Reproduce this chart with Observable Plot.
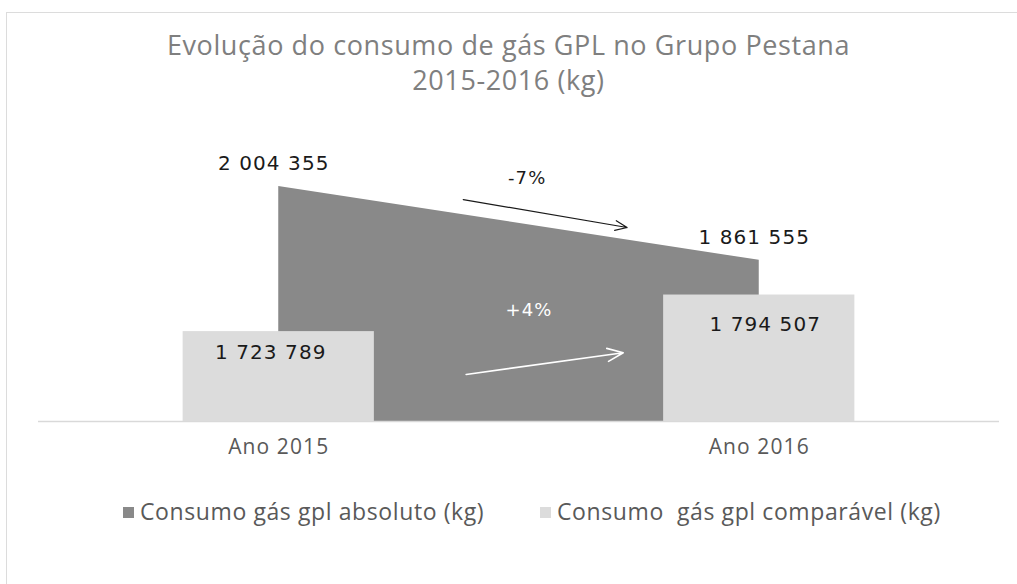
<!DOCTYPE html>
<html>
<head>
<meta charset="utf-8">
<script src="https://cdn.jsdelivr.net/npm/d3@7"></script>
<script src="https://cdn.jsdelivr.net/npm/@observablehq/plot@0.6"></script>
<style>
  html, body { margin: 0; padding: 0; background: #fff; }
  body { width: 1017px; height: 584px; overflow: hidden; position: relative; }
  #frame { position: absolute; left: 6px; top: 12px; width: 1100px; height: 700px;
           border-top: 1.5px solid #dcdcdc; border-left: 1.5px solid #dcdcdc; }
  .tl { position: absolute; left: 0; width: 1017px; text-align: center;
        font-family: "Open Sans", sans-serif; font-size: 27px; line-height: 27px; letter-spacing: 0.6px; color: #7f7f7f; }
  #chart { position: absolute; left: 0; top: 100px; }
  #chart svg text { letter-spacing: 1.1px; }
  .leg { position: absolute; top: 497px; font-family: "Open Sans", sans-serif; font-size: 23px;
         letter-spacing: 0.6px; color: #595959; white-space: pre; line-height: 28px; }
  .sw { display: inline-block; width: 11px; height: 11px; margin-right: 6px; vertical-align: 2px; }
</style>
</head>
<body>
<div id="frame"></div>
<div id="title"></div>
<div id="chart"></div>
<div id="legend"></div>
<script>
// ---- data ----
const years = ["Ano 2015", "Ano 2016"];
const absoluto = [2004355, 1861555];
const comparavel = [1723789, 1794507];
const seriesNames = ["Consumo gás gpl absoluto (kg)", "Consumo  gás gpl comparável (kg)"];
const titleLines = ["Evolução do consumo de gás GPL no Grupo Pestana", "2015-2016 (kg)"];
const yDomain = [1550000, 2100000];

// ---- derived ----
const data = years.map((year, i) => ({i, year, abs: absoluto[i], comp: comparavel[i]}));
const pct = (arr) => Math.round((arr[1] / arr[0] - 1) * 100);
const pctLabel = (p) => (p > 0 ? "+" : "-") + Math.abs(p) + "%";
const fmt = d3.formatLocale({decimal: ",", thousands: " ", grouping: [3], currency: ["", ""]}).format(",d");

// annotation anchors (data space)
const annAbs = [{text: pctLabel(pct(absoluto)), x: 0.517, y: 2020000, x1: 0.384, y1: 1979000, x2: 0.725, y2: 1925000}];
const annComp = [{text: pctLabel(pct(comparavel)), x: 0.521, y: 1764600, x1: 0.390, y1: 1641000, x2: 0.717, y2: 1683000}];

const colAbs = "#898989", colComp = "#dcdcdc";
const halfBar = 0.199;
const numFont = "DejaVu Sans";

// title lines
const titleTops = [31, 66];
titleLines.forEach((t, k) => {
  const d = document.createElement("div");
  d.className = "tl";
  d.style.top = titleTops[k] + "px";
  d.textContent = t;
  document.getElementById("title").appendChild(d);
});

const chart = Plot.plot({
  width: 1017,
  height: 360,
  marginLeft: 38,
  marginRight: 18,
  marginTop: 36.5,
  marginBottom: 39,
  x: {domain: [-0.5, 1.5], axis: null},
  y: {domain: yDomain, axis: null},
  style: {background: "transparent", fontFamily: "Open Sans"},
  marks: [
    Plot.areaY(data, {x: "i", y1: yDomain[0], y2: "abs", fill: colAbs}),
    Plot.rect(data, {x1: d => d.i - halfBar, x2: d => d.i + halfBar, y1: yDomain[0], y2: "comp", fill: colComp}),
    Plot.ruleY([yDomain[0]], {stroke: "#d9d9d9", strokeWidth: 1.5}),
    Plot.text(data, {x: "i", y: "abs", text: d => fmt(d.abs), dy: -23, dx: -5, fontSize: 20, fontFamily: numFont, fill: "#1a1a1a"}),
    Plot.text(data.filter(d => d.i === 0), {x: "i", y: "comp", text: d => fmt(d.comp), dy: 21, dx: -8, fontSize: 20, fontFamily: numFont, fill: "#1a1a1a"}),
    Plot.text(data.filter(d => d.i === 1), {x: "i", y: "comp", text: d => fmt(d.comp), dy: 30, dx: 6, fontSize: 20, fontFamily: numFont, fill: "#1a1a1a"}),
    Plot.text(data, {x: "i", y: yDomain[0], text: "year", dy: 26, fontSize: 21, fontFamily: "Open Sans", fill: "#595959"}),
    Plot.arrow(annAbs, {x1: "x1", y1: "y1", x2: "x2", y2: "y2", stroke: "#1a1a1a", strokeWidth: 1.2, headLength: 16, headAngle: 45, bend: 0}),
    Plot.arrow(annComp, {x1: "x1", y1: "y1", x2: "x2", y2: "y2", stroke: "#ffffff", strokeWidth: 1.6, headLength: 16, headAngle: 45, bend: 0}),
    Plot.text(annAbs, {x: "x", y: "y", text: "text", fontSize: 18, fontFamily: numFont, fill: "#1a1a1a"}),
    Plot.text(annComp, {x: "x", y: "y", text: "text", fontSize: 18, fontFamily: numFont, fill: "#ffffff"})
  ]
});
document.getElementById("chart").appendChild(chart);

// legend
const legend = document.getElementById("legend");
const legLeft = [123, 540];
const legCols = [colAbs, colComp];
seriesNames.forEach((name, k) => {
  const d = document.createElement("div");
  d.className = "leg";
  d.style.left = legLeft[k] + "px";
  d.innerHTML = `<span class="sw" style="background:${legCols[k]}"></span>${name}`;
  legend.appendChild(d);
});
</script>
</body>
</html>
